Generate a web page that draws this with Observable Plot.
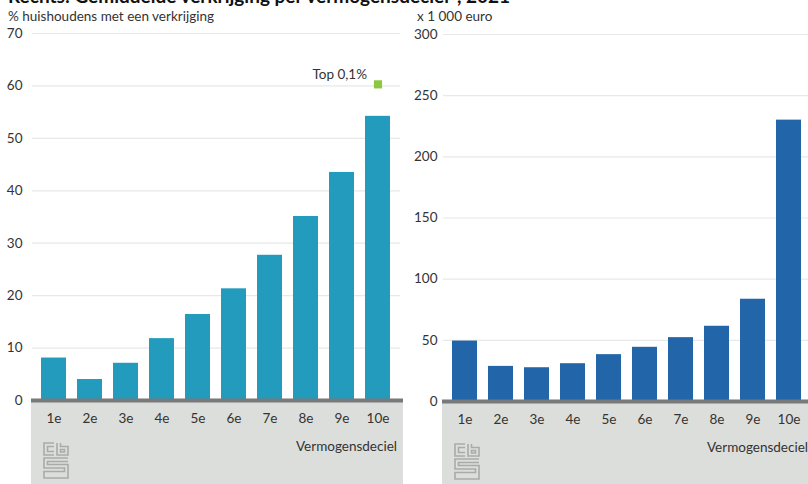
<!DOCTYPE html>
<html><head><meta charset="utf-8">
<script src="https://cdn.jsdelivr.net/npm/d3@7"></script>
<script src="https://cdn.jsdelivr.net/npm/@observablehq/plot@0.6"></script>
<style>
body{margin:0;width:808px;height:484px;overflow:hidden;background:#fff;font-family:Lato,sans-serif;position:relative;color:#333}
.abs{position:absolute;white-space:nowrap}
.panel{position:absolute;top:0}
.panel svg{max-width:none !important}
.title{font-weight:bold;font-size:19px;line-height:19px;color:#111;top:-14px;left:8px}
.unit{font-size:13.5px;top:8px}
</style></head><body>
<div class="abs title">Rechts: Gemiddelde verkrijging per vermogensdeciel*, 2021</div>
<div class="abs unit" style="left:8px">% huishoudens met een verkrijging</div>
<div class="abs unit" style="left:417px">x 1 000 euro</div>
<div id="left" class="panel" style="left:0px;width:405px"></div>
<div id="right" class="panel" style="left:405px;width:420px"></div>
<script>
const deciles = ["1e","2e","3e","4e","5e","6e","7e","8e","9e","10e"];
const pctWithInheritance = [8.1, 4.0, 7.1, 11.8, 16.4, 21.3, 27.7, 35.1, 43.5, 54.2];
const avgAmountThousandEuro = [49.4, 28.7, 27.6, 30.9, 38.3, 44.3, 52.2, 61.5, 83.6, 230];
const topDecile = ["10e"];
const topValue = [60.3];
const topLabel = ["Top 0,1%"];
const leftTicks = [0, 10, 20, 30, 40, 50, 60, 70];
const rightTicks = [0, 50, 100, 150, 200, 250, 300];
const xTitle = "Vermogensdeciel";

function logoSVG() {
  const ns = "http://www.w3.org/2000/svg";
  const g = document.createElementNS(ns, "g");
  g.setAttribute("fill", "none");
  g.setAttribute("stroke", "#a9abaa");
  g.setAttribute("stroke-width", "1.6");
  const paths = [
    "M11 1 H1 V13 H11", "M11 4.5 H4.5 V9.5 H11",
    "M14 1 V13 H25 V4.5 H17.5 V1", "M17.5 7.5 H21.5 V10 H17.5 Z",
    "M25 16 H1 V26 H21.5 V29.5 H1 V36 H25 V22.5 H4.5 V19.5 H25"
  ];
  for (const d of paths) {
    const p = document.createElementNS(ns, "path");
    p.setAttribute("d", d);
    g.appendChild(p);
  }
  return g;
}

function panel({values, color, ticks, yMax, width, marginLeft, marginRight, marginTop, marginBottom, tickPadding, extra = []}) {
  const data = deciles.map((d, i) => ({decile: d, value: values[i]}));
  const plot = Plot.plot({
    width, height: 484, marginTop, marginBottom, marginLeft, marginRight,
    style: {fontFamily: "Lato, sans-serif", fontSize: "13.5px", color: "#333", background: "transparent", overflow: "visible", maxWidth: "none"},
    x: {domain: deciles, paddingInner: 0.3, paddingOuter: 0.15, label: null},
    y: {domain: [0, yMax], label: null},
    marks: [
      Plot.gridY(ticks, {stroke: "#e8e8e8", strokeOpacity: 1, strokeWidth: 1.2}),
      Plot.axisY(ticks, {tickSize: 0, tickPadding, label: null, fill: "#333"}),
      Plot.axisX({tickSize: 0, tickPadding: 13, label: null, fill: "#333"}),
      Plot.barY(data, {x: "decile", y: "value", fill: color}),
      Plot.ruleY([0], {stroke: "#78797a", strokeWidth: 4, insetLeft: -1, insetRight: -3}),
      ...extra
    ]
  });
  const xs = plot.scale("x");
  const [r0, r1] = xs.range;
  const ys = plot.scale("y");
  const y0 = ys.apply(0);
  const svg = d3.select(plot);
  svg.insert("rect", "g")
    .attr("x", r0 - 1).attr("y", y0 + 2)
    .attr("width", r1 - r0 + 4).attr("height", 484 - y0)
    .attr("fill", "#dcdedb");
  svg.append("text")
    .attr("x", r1 - 3).attr("y", y0 + 51)
    .attr("text-anchor", "end")
    .attr("fill", "#333")
    .text(xTitle);
  const lg = logoSVG();
  lg.setAttribute("transform", `translate(${r0 + 11},${y0 + 42})`);
  plot.appendChild(lg);
  return plot;
}

const topData = topDecile.map((d, i) => ({decile: d, value: topValue[i], label: topLabel[i]}));

document.getElementById("left").appendChild(panel({
  values: pctWithInheritance, color: "#229bbc", ticks: leftTicks, yMax: 70,
  width: 405, marginLeft: 32, marginRight: 5, marginTop: 33, marginBottom: 84, tickPadding: 10,
  extra: [
    Plot.dot(topData, {x: "decile", y: "value", symbol: "square", r: 4.6, fill: "#8dc63f", stroke: null}),
    Plot.text(topData, {x: "decile", y: "value", text: "label", textAnchor: "end", dx: -11, dy: -10, fill: "#333"})
  ]
}));

document.getElementById("right").appendChild(panel({
  values: avgAmountThousandEuro, color: "#2265a8", ticks: rightTicks, yMax: 300,
  width: 420, marginLeft: 38, marginRight: 14, marginTop: 34, marginBottom: 83, tickPadding: 6
}));
</script>
</body></html>
